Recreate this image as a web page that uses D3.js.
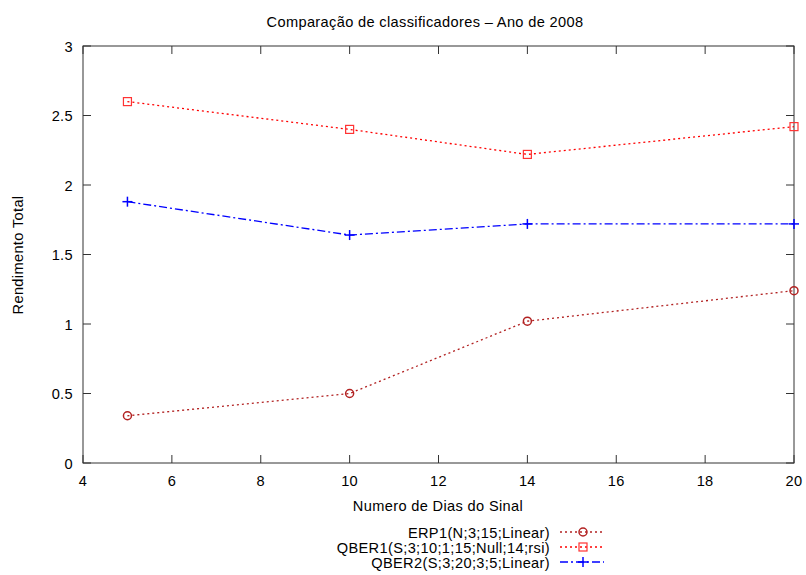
<!DOCTYPE html>
<html><head><meta charset="utf-8">
<script src="https://cdn.jsdelivr.net/npm/d3@7"></script>
<style>body{margin:0;background:#fff}text{font-family:"Liberation Sans",Arial,sans-serif;font-size:14.6px;letter-spacing:0.35px;fill:#000}</style>
</head><body>
<svg id="c" width="806" height="575"></svg>
<script>
const xDays = [5, 10, 14, 20];
const erp1 = [0.34, 0.5, 1.02, 1.24];
const qber1 = [2.6, 2.4, 2.22, 2.42];
const qber2 = [1.88, 1.64, 1.72, 1.72];
const xTicks = [4, 6, 8, 10, 12, 14, 16, 18, 20];
const yTicks = [0, 0.5, 1, 1.5, 2, 2.5, 3];
const seriesNames = ["ERP1(N;3;15;Linear)", "QBER1(S;3;10;1;15;Null;14;rsi)", "QBER2(S;3;20;3;5;Linear)"];

const svg = d3.select("#c");
const L = 83, R = 794, T = 46, B = 463;
const x = d3.scaleLinear().domain([4, 20]).range([L, R]);
const y = d3.scaleLinear().domain([0, 3]).range([B, T]);
const tl = 8;
const g = svg.append("g");
xTicks.forEach(t => {
  g.append("line").attr("x1", x(t)).attr("x2", x(t)).attr("y1", B).attr("y2", B - tl).attr("stroke", "#333");
  g.append("line").attr("x1", x(t)).attr("x2", x(t)).attr("y1", T).attr("y2", T + tl).attr("stroke", "#333");
  g.append("text").attr("x", x(t)).attr("y", 486).attr("text-anchor", "middle").text(t);
});
yTicks.forEach(t => {
  g.append("line").attr("x1", L).attr("x2", L + tl).attr("y1", y(t)).attr("y2", y(t)).attr("stroke", "#333");
  g.append("line").attr("x1", R).attr("x2", R - tl).attr("y1", y(t)).attr("y2", y(t)).attr("stroke", "#333");
  g.append("text").attr("x", 73).attr("y", y(t) + 5.5).attr("text-anchor", "end").text(t);
});
g.append("rect").attr("x", L).attr("y", T).attr("width", R - L).attr("height", B - T).attr("fill", "none").attr("stroke", "#333");

svg.append("text").attr("x", 425).attr("y", 27).attr("text-anchor", "middle").text("Comparação de classificadores – Ano de 2008");
svg.append("text").attr("x", 438).attr("y", 511).attr("text-anchor", "middle").text("Numero de Dias do Sinal");
svg.append("text").attr("transform", "translate(23,255) rotate(-90)").attr("text-anchor", "middle").text("Rendimento Total");

const series = [
  {vals: erp1, color: "#b22222", dash: "2,3", marker: "circle", mcol: "#b22222"},
  {vals: qber1, color: "#ff0000", dash: "2,3", marker: "square", mcol: "#ff3333"},
  {vals: qber2, color: "#0000ff", dash: "8,3,2,3", marker: "plus", mcol: "#0000ff"}
];
const line = d3.line().x((d, i) => x(xDays[i])).y(d => y(d));
function marker(sel, type, cx, cy, col) {
  if (type === "circle") sel.append("circle").attr("cx", cx).attr("cy", cy).attr("r", 4).attr("fill", "none").attr("stroke", col).attr("stroke-width", 1.5);
  else if (type === "square") sel.append("rect").attr("x", cx - 4).attr("y", cy - 4).attr("width", 8).attr("height", 8).attr("fill", "none").attr("stroke", col).attr("stroke-width", 1.2);
  else {
    sel.append("line").attr("x1", cx - 5).attr("x2", cx + 5).attr("y1", cy).attr("y2", cy).attr("stroke", col).attr("stroke-width", 1.5);
    sel.append("line").attr("x1", cx).attr("x2", cx).attr("y1", cy - 5).attr("y2", cy + 5).attr("stroke", col).attr("stroke-width", 1.5);
  }
}
series.forEach((s, k) => {
  svg.append("path").attr("d", line(s.vals)).attr("fill", "none").attr("stroke", s.color).attr("stroke-width", 1.3).attr("stroke-dasharray", s.dash);
  s.vals.forEach((v, i) => marker(svg, s.marker, x(xDays[i]), y(v), s.mcol));
  const ly = 532 + k * 15;
  svg.append("text").attr("x", 550).attr("y", ly + 5.5).attr("text-anchor", "end").text(seriesNames[k]);
  svg.append("line").attr("x1", 560).attr("x2", 604).attr("y1", ly).attr("y2", ly).attr("stroke", s.color).attr("stroke-width", 1.3).attr("stroke-dasharray", s.dash);
  marker(svg, s.marker, 583, ly, s.mcol);
});
</script>
</body></html>
